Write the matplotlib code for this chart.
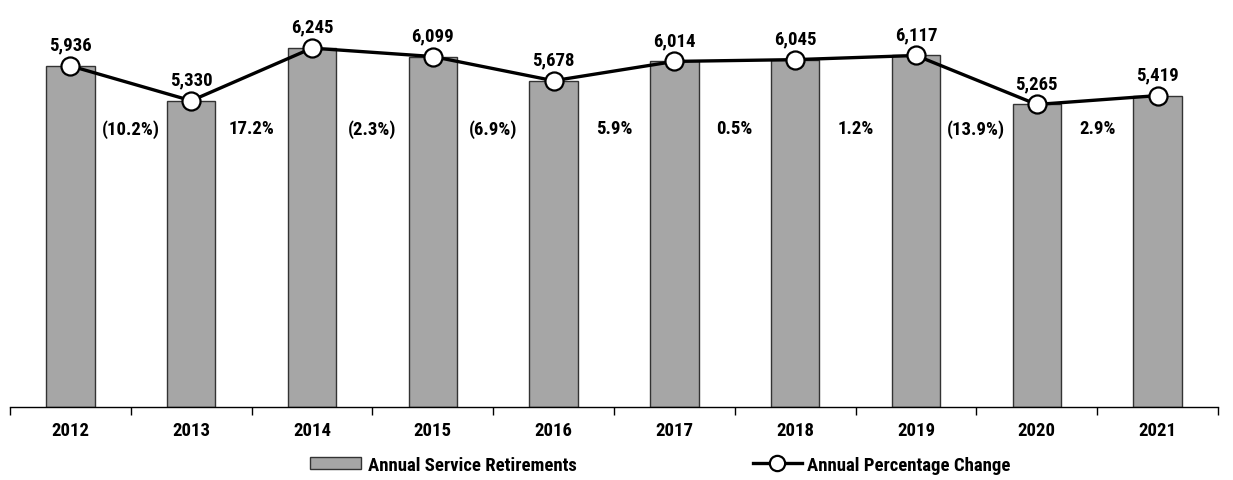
import numpy as np
import matplotlib.pyplot as plt
from matplotlib.lines import Line2D
from matplotlib.patches import Patch

years = ["2012", "2013", "2014", "2015", "2016", "2017", "2018", "2019", "2020", "2021"]
retirements = [5936, 5330, 6245, 6099, 5678, 6014, 6045, 6117, 5265, 5419]
pct_labels = ["(10.2%)", "17.2%", "(2.3%)", "(6.9%)", "5.9%", "0.5%", "1.2%", "(13.9%)", "2.9%"]

plt.rcParams['font.family'] = ['Roboto Condensed', 'Liberation Sans Narrow', 'DejaVu Sans']
plt.rcParams['font.stretch'] = 'condensed'
plt.rcParams['font.weight'] = 'bold'

fig = plt.figure(figsize=(12.33, 4.81), dpi=100)
ax = fig.add_axes([10/1233, 73/481, 1208/1233, 408/481])

x = np.arange(len(years))
ax.bar(x, retirements, width=0.4, color="#a6a6a6", edgecolor="#333333", linewidth=1, zorder=2)
ax.plot(x, retirements, color="black", linewidth=2.4, marker="o", markersize=13,
        markerfacecolor="white", markeredgecolor="black", markeredgewidth=1.6, zorder=3)

for xi, v in zip(x, retirements):
    ax.annotate(f"{v:,}", (xi, v), xytext=(0, 9), textcoords="offset points",
                ha="center", va="bottom", fontsize=13.5)

for i, lab in enumerate(pct_labels):
    ax.text(i + 0.5, 4850, lab, ha="center", va="center", fontsize=13.5)

ax.set_xlim(-0.5, len(years) - 0.5)
ax.set_ylim(0, 7100)
for s in ["top", "right", "left"]:
    ax.spines[s].set_visible(False)
ax.spines["bottom"].set_linewidth(1)
ax.set_yticks([])
ax.set_xticks(np.arange(-0.5, len(years), 1))
ax.set_xticklabels([])
ax.set_xticks(x, minor=True)
ax.set_xticklabels(years, minor=True, fontsize=13.5)
ax.tick_params(axis="x", which="major", length=6, width=1, direction="out")
ax.tick_params(axis="x", which="minor", length=0, pad=10)

bar_h = Patch(facecolor="#a6a6a6", edgecolor="#333333", linewidth=1)
line_h = Line2D([0], [0], color="black", linewidth=2.4, marker="o", markersize=11,
                markerfacecolor="white", markeredgecolor="black", markeredgewidth=1.6)
fig.legend([bar_h], ["Annual Service Retirements"], loc="center left",
           bbox_to_anchor=(293/1233, 15/481), frameon=False,
           fontsize=13.5, handlelength=2.7, handletextpad=0.4, handleheight=0.6)
fig.legend([line_h], ["Annual Percentage Change"], loc="center left",
           bbox_to_anchor=(736/1233, 15/481), frameon=False,
           fontsize=13.5, handlelength=2.6, handletextpad=0.28)

fig.savefig("out.png", dpi=100)
